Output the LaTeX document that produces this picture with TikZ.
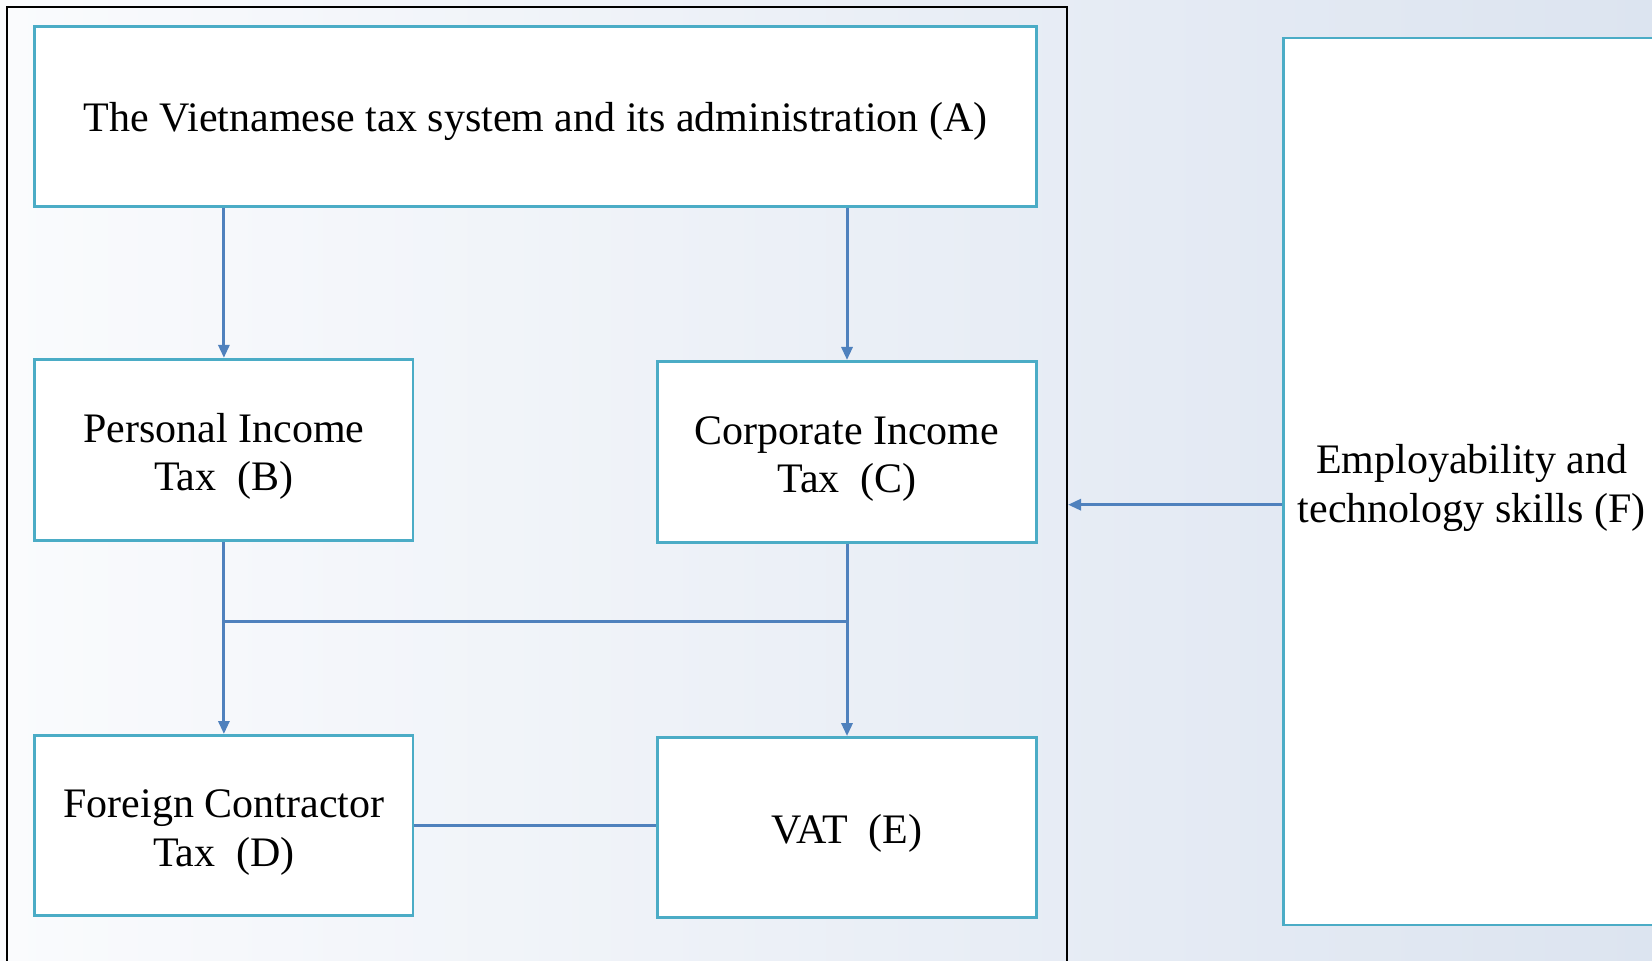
\documentclass[tikz,border=0pt]{standalone}
\usepackage{fontspec}
\setmainfont{Liberation Serif}
\usetikzlibrary{arrows.meta}
\definecolor{boxline}{HTML}{4BACC6}
\definecolor{linkline}{HTML}{4F81BD}
\definecolor{bgtop}{HTML}{FAFBFD}
\definecolor{bgbot}{HTML}{DCE4F0}
\begin{document}
\begin{tikzpicture}[x=0.5pt,y=-0.5pt,
  taxbox/.style={draw=boxline,line width=1.4pt,fill=white,align=center,
    font=\fontsize{21}{24.3}\selectfont,inner sep=0pt,text height=#1},
  taxbox/.default=45.4pt,
  link/.style={draw=linkline,line width=1.5pt},
  arr/.style={link,-{Triangle[length=6.5pt,width=5.5pt]}}]
\clip (0,0) rectangle (1652,961);
\shade[shading angle=135,left color=bgtop,right color=bgbot] (0,0) rectangle (1652,961);
\node[draw=black,line width=1pt,minimum width=529.8pt,minimum height=496.3pt] (frame) at (537.2,503.7) {};
\node[taxbox=20pt,minimum width=500.9pt,minimum height=90.1pt] (A) at (535.7,116.4)
  {The Vietnamese tax system and its administration (A)};
\node[taxbox,minimum width=189.1pt,minimum height=90.6pt] (B) at (223.9,449.9)
  {Personal Income\\Tax\ \ (B)};
\node[taxbox,minimum width=189.6pt,minimum height=90.6pt] (C) at (847,452)
  {Corporate Income\\Tax\ \ (C)};
\node[taxbox,minimum width=189.1pt,minimum height=90.1pt] (D) at (223.9,825.5)
  {Foreign Contractor\\Tax\ \ (D)};
\node[taxbox=20pt,minimum width=189.6pt,minimum height=90.1pt] (E) at (847,827.6)
  {VAT\ \ (E)};
\node[taxbox,minimum width=188.6pt,minimum height=443.5pt] (F) at (1471.8,481.5)
  {Employability and\\technology skills (F)};
\draw[arr] (B.north |- A.south) -- (B.north);
\draw[arr] (C.north |- A.south) -- (C.north);
\draw[arr] (B.south) -- (D.north);
\draw[arr] (C.south) -- (E.north);
\path (B.south) ++(0,80) coordinate (bc);
\draw[link] (bc) -- (bc -| C.south);
\draw[link] (D.east) -- (D.east -| E.west);
\draw[arr] ([yshift=-11.6pt]F.west) -- ([yshift=-11.6pt]F.west -| frame.east);
\end{tikzpicture}
\end{document}
